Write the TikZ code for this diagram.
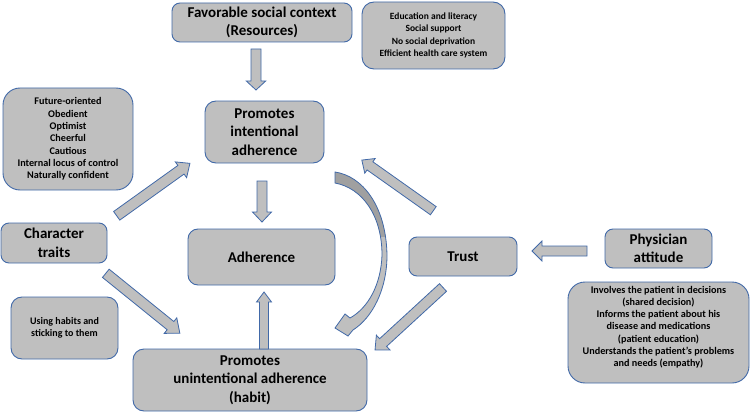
\documentclass[tikz,border=0pt]{standalone}
\usepackage{fontspec}
\setmainfont{Carlito}
\usetikzlibrary{calc}
\definecolor{boxfill}{HTML}{BFBFBF}
\definecolor{boxline}{HTML}{4169A8}
\definecolor{darkface}{HTML}{A0A0A0}
\tikzset{
  box/.style={draw=boxline, fill=boxfill, line width=0.9pt, rounded corners=#1, align=center, inner sep=2pt},
  box/.default=8pt,
  big/.style={font=\bfseries\fontsize{15}{18.5}\selectfont},
  small/.style={font=\bfseries\fontsize{9.5}{12.2}\selectfont},
  smallb/.style={font=\bfseries\fontsize{10.2}{12.3}\selectfont},
  arr/.style={draw=boxline, fill=boxfill, line width=0.8pt, line join=miter},
}
% block arrow: from, to, shaft half width, head half width, head length
\newcommand\blockarr[5]{%
  \path[arr] let \p1=(#1), \p2=(#2), \n1={atan2(\y2-\y1,\x2-\x1)}, \n2={veclen(\x2-\x1,\y2-\y1)} in
    [shift={(\x1,\y1)}, rotate=\n1]
    (0pt,{-#3*1pt}) -- ({(\n2-#5)*1pt},{-#3*1pt}) -- ({(\n2-#5)*1pt},{-#4*1pt}) -- ({\n2*1pt},0pt)
    -- ({(\n2-#5)*1pt},{#4*1pt}) -- ({(\n2-#5)*1pt},{#3*1pt}) -- (0pt,{#3*1pt}) -- cycle;}
\begin{document}
\begin{tikzpicture}[x=1pt,y=-1pt]
\useasboundingbox (0,0) rectangle (750,412);

% nodes
\node[box, big, minimum width=180pt, minimum height=39pt] (fav) at (262,22.5) {Favorable social context\\(Resources)};
\node[box=12pt, small, minimum width=143pt, minimum height=67pt] (edu) at (433.5,35.5) {Education and literacy\\Social support\\No social deprivation\\Efficient health care system};
\node[box=17pt, smallb, minimum width=130pt, minimum height=102pt] (tlist) at (68,139) {Future-oriented\\Obedient\\Optimist\\Cheerful\\Cautious\\Internal locus of control\\Naturally confident};
\node[box=11pt, big, minimum width=119pt, minimum height=62pt] (intent) at (264.5,132) {Promotes\\intentional\\adherence};
\node[box=10pt, big, minimum width=147pt, minimum height=56pt] (adh) at (261.5,257) {Adherence};
\node[box, big, minimum width=106pt, minimum height=40pt] (char) at (54,243) {Character\\traits};
\node[box=11pt, font=\bfseries\fontsize{10}{12.3}\selectfont, minimum width=107pt, minimum height=62pt] (habits) at (64.5,328) {Using habits and\\sticking to them};
\node[box=11pt, big, minimum width=234pt, minimum height=62pt] (unint) at (250,380) {Promotes\\unintentional adherence\\(habit)};
\node[box, big, minimum width=108pt, minimum height=39pt] (trust) at (463,256.5) {Trust};
\node[box, big, minimum width=107pt, minimum height=39pt] (phys) at (658.5,248.5) {Physician\\attitude};
\node[box=17pt, smallb, minimum width=181pt, minimum height=101pt] (physdet) at (658.5,332.5) {Involves the patient in decisions\\(shared decision)\\Informs the patient about his\\disease and medications\\(patient education)\\Understands the patient's problems\\and needs (empathy)\\\mbox{}};

% arrow end points
\coordinate (a1s) at (256,49);   \coordinate (a1e) at (256,90);
\coordinate (a2s) at (262,181);  \coordinate (a2e) at (262,222);
\coordinate (a3s) at (264,349);  \coordinate (a3e) at (264,292);
\coordinate (a4s) at (116.7,215.8); \coordinate (a4e) at (190,163.3);
\coordinate (a5s) at (105.8,273.3); \coordinate (a5e) at (180,333.3);
\coordinate (a6s) at (433.3,210.7); \coordinate (a6e) at (361.7,160);
\coordinate (a7s) at (443,287.5); \coordinate (a7e) at (375,350);
\coordinate (a8s) at (587,251);  \coordinate (a8e) at (532,251);

\blockarr{a1s}{a1e}{5}{9.7}{9}
\blockarr{a2s}{a2e}{5}{9.5}{10}
\blockarr{a3s}{a3e}{4.5}{7.5}{10}
\blockarr{a4s}{a4e}{5.3}{9.7}{11}
\blockarr{a5s}{a5e}{5.3}{10}{12}
\blockarr{a6s}{a6e}{5}{9}{10}
\blockarr{a7s}{a7e}{5.2}{10}{11}
\blockarr{a8s}{a8e}{5}{10}{10}

% curved arrow
\def\curvedpath{(335,172) .. controls (362,176) and (386,205) .. (387,255)
  .. controls (387,290) and (372,318) .. (353,330) -- (348,336) -- (335,328) -- (345,314) -- (350,318)
  .. controls (368,308) and (381,285) .. (382,255)
  .. controls (382,215) and (362,188) .. (335,183) -- cycle}
\fill[boxfill] \curvedpath;
\begin{scope}
  \clip (320,160) rectangle (400,236);
  \fill[darkface] \curvedpath;
\end{scope}
\draw[boxline, line width=0.8pt, line join=miter] \curvedpath;
\end{tikzpicture}
\end{document}
